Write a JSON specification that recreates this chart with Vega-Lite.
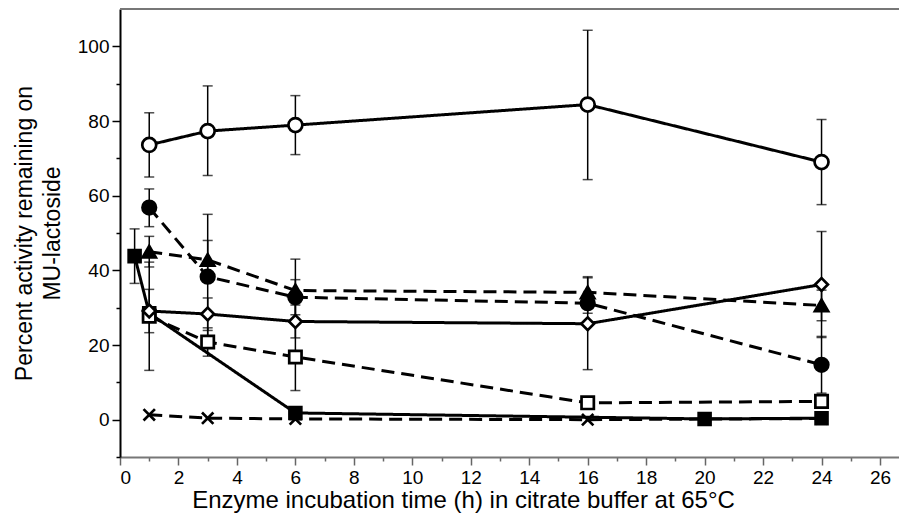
{
  "$schema": "https://vega.github.io/schema/vega-lite/v6.json",
  "width": 779,
  "height": 448,
  "autosize": {"type": "none"},
  "padding": {"left": 120, "top": 9, "right": 0, "bottom": 61},
  "background": "white",
  "config": {
    "view": {"stroke": null},
    "font": "Liberation Sans"
  },
  "data": {
    "values": [
      {"series": "s6", "t": 0.5, "v": 43.8, "lo": 36.5, "hi": 51.1},
      {"series": "s6", "t": 1, "v": 28.5, "lo": null, "hi": null},
      {"series": "s6", "t": 6, "v": 1.8, "lo": null, "hi": null},
      {"series": "s6", "t": 20, "v": 0.2, "lo": null, "hi": null},
      {"series": "s6", "t": 24, "v": 0.4, "lo": null, "hi": null},
      {"series": "s7", "t": 1, "v": 1.3, "lo": null, "hi": null},
      {"series": "s7", "t": 3, "v": 0.4, "lo": null, "hi": null},
      {"series": "s7", "t": 6, "v": 0.2, "lo": null, "hi": null},
      {"series": "s7", "t": 16, "v": 0.0, "lo": null, "hi": null},
      {"series": "s7", "t": 24, "v": 0.3, "lo": null, "hi": null},
      {"series": "s5", "t": 1, "v": 27.7, "lo": 13.2, "hi": 42.2},
      {"series": "s5", "t": 3, "v": 20.8, "lo": 17.0, "hi": 24.6},
      {"series": "s5", "t": 6, "v": 16.8, "lo": 7.8, "hi": 25.8},
      {"series": "s5", "t": 16, "v": 4.5, "lo": null, "hi": null},
      {"series": "s5", "t": 24, "v": 4.9, "lo": null, "hi": null},
      {"series": "s4", "t": 1, "v": 29.1, "lo": 23.3, "hi": 34.9},
      {"series": "s4", "t": 3, "v": 28.3, "lo": 23.9, "hi": 32.6},
      {"series": "s4", "t": 6, "v": 26.3, "lo": 21.9, "hi": 30.7},
      {"series": "s4", "t": 16, "v": 25.7, "lo": 13.4, "hi": 38.0},
      {"series": "s4", "t": 24, "v": 36.2, "lo": 22.0, "hi": 50.4},
      {"series": "s3", "t": 1, "v": 45.0, "lo": 40.9, "hi": 49.1},
      {"series": "s3", "t": 3, "v": 42.8, "lo": 37.5, "hi": 48.0},
      {"series": "s3", "t": 6, "v": 34.6, "lo": 26.2, "hi": 43.0},
      {"series": "s3", "t": 16, "v": 34.1, "lo": 29.9, "hi": 38.3},
      {"series": "s3", "t": 24, "v": 30.6, "lo": 26.5, "hi": 34.7},
      {"series": "s2", "t": 1, "v": 56.8, "lo": 51.7, "hi": 61.8},
      {"series": "s2", "t": 3, "v": 38.3, "lo": 21.5, "hi": 55.0},
      {"series": "s2", "t": 6, "v": 32.8, "lo": 28.1, "hi": 37.5},
      {"series": "s2", "t": 16, "v": 31.2, "lo": 28.5, "hi": 33.9},
      {"series": "s2", "t": 24, "v": 14.7, "lo": 7.1, "hi": 22.3},
      {"series": "s1", "t": 1, "v": 73.6, "lo": 65.0, "hi": 82.2},
      {"series": "s1", "t": 3, "v": 77.3, "lo": 65.4, "hi": 89.4},
      {"series": "s1", "t": 6, "v": 78.9, "lo": 71.0, "hi": 86.8},
      {"series": "s1", "t": 16, "v": 84.4, "lo": 64.3, "hi": 104.3},
      {"series": "s1", "t": 24, "v": 69.0, "lo": 57.6, "hi": 80.4}
    ]
  },
  "layer": [
    {
      "mark": {"type": "rule", "color": "#777777", "strokeWidth": 2},
      "encoding": {
        "y": {"datum": 110, "type": "quantitative", "scale": {"domain": [-10, 110], "nice": false, "zero": false}, "axis": null}
      }
    },
    {
      "mark": {"type": "rule", "color": "black", "strokeWidth": 1.5},
      "encoding": {
        "x": {"field": "t", "type": "quantitative",
              "scale": {"domain": [0, 26.65], "nice": false, "zero": false},
              "axis": {"orient": "bottom", "values": [1, 3, 5, 7, 9, 11, 13, 15, 17, 19, 21, 23, 25], "labels": false, "domain": false, "grid": false, "tickSize": 4, "tickWidth": 1.5, "tickColor": "#666666", "title": null}},
        "y": {"field": "lo", "type": "quantitative",
              "scale": {"domain": [-10, 110], "nice": false, "zero": false},
              "axis": {"orient": "left", "values": [-10, 10, 30, 50, 70, 90], "labels": false, "domain": false, "grid": false, "tickSize": 4, "tickWidth": 1.5, "tickColor": "black", "title": null}},
        "y2": {"field": "hi"}
      }
    },
    {
      "mark": {"type": "tick", "orient": "horizontal", "size": 10, "thickness": 1.5, "color": "black"},
      "encoding": {
        "x": {"field": "t", "type": "quantitative", "axis": null},
        "y": {"field": "lo", "type": "quantitative", "axis": null}
      }
    },
    {
      "mark": {"type": "tick", "orient": "horizontal", "size": 10, "thickness": 1.5, "color": "black"},
      "encoding": {
        "x": {"field": "t", "type": "quantitative", "axis": null},
        "y": {"field": "hi", "type": "quantitative", "axis": null}
      }
    },
    {
      "mark": {"type": "line", "color": "black", "strokeWidth": 3, "strokeCap": "butt"},
      "encoding": {
        "x": {"field": "t", "type": "quantitative", "axis": null},
        "y": {"field": "v", "type": "quantitative", "axis": null},
        "strokeDash": {
          "field": "series", "type": "nominal", "legend": null,
          "scale": {
            "domain": ["s1", "s2", "s3", "s4", "s5", "s6", "s7"],
            "range": [[1, 0], [13, 7], [13, 7], [1, 0], [13, 7], [1, 0], [13, 7]]
          }
        }
      }
    },
    {
      "mark": {"type": "point", "filled": true, "stroke": "black", "strokeWidth": 2.7, "opacity": 1},
      "encoding": {
        "x": {"field": "t", "type": "quantitative",
              "axis": {"orient": "bottom", "values": [0, 2, 4, 6, 8, 10, 12, 14, 16, 18, 20, 22, 24, 26], "grid": false,
                       "domainColor": "#777777", "domainWidth": 2, "tickColor": "#666666", "tickWidth": 1.5, "tickSize": 8,
                       "labelFont": "Liberation Sans", "labelFontSize": 19, "labelColor": "black", "labelPadding": 3,
                       "title": "Enzyme incubation time (h) in citrate buffer at 65°C",
                       "titleFont": "Liberation Sans", "titleFontSize": 24, "titleFontWeight": "normal", "titleColor": "black",
                       "titleX": 343, "titleY": 50, "titleAlign": "center", "titleBaseline": "alphabetic"}},
        "y": {"field": "v", "type": "quantitative",
              "axis": {"orient": "left", "values": [0, 20, 40, 60, 80, 100], "grid": false,
                       "domainColor": "black", "domainWidth": 2, "tickColor": "black", "tickWidth": 1.5, "tickSize": 8,
                       "labelFont": "Liberation Sans", "labelFontSize": 19, "labelColor": "black", "labelPadding": 3,
                       "title": ["Percent activity remaining on", "MU-lactoside"],
                       "titleFont": "Liberation Sans", "titleFontSize": 23, "titleFontWeight": "normal", "titleColor": "black",
                       "titleLineHeight": 28, "titleAngle": 270, "titleX": -96, "titleY": 224,
                       "titleAlign": "center", "titleBaseline": "middle"}},
        "shape": {
          "field": "series", "type": "nominal", "legend": null,
          "scale": {
            "domain": ["s1", "s2", "s3", "s4", "s5", "s6", "s7"],
            "range": ["circle", "circle", "triangle-up", "diamond", "square", "square", "M-1,-1L1,1M-1,1L1,-1"]
          }
        },
        "fill": {
          "field": "series", "type": "nominal", "legend": null,
          "scale": {
            "domain": ["s1", "s2", "s3", "s4", "s5", "s6", "s7"],
            "range": ["white", "black", "black", "white", "white", "black", "white"]
          }
        },
        "size": {
          "field": "series", "type": "nominal", "legend": null,
          "scale": {
            "domain": ["s1", "s2", "s3", "s4", "s5", "s6", "s7"],
            "range": [195, 130, 210, 200, 225, 165, 200]
          }
        }
      }
    }
  ],
  "resolve": {"axis": {"x": "independent", "y": "independent"}}
}
